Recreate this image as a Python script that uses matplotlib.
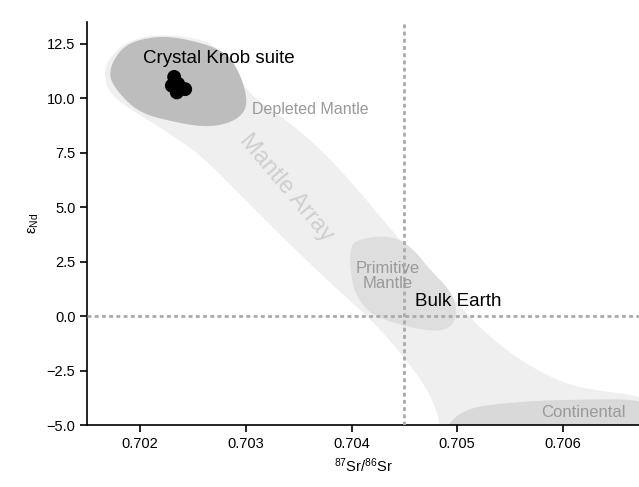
import numpy as np
import matplotlib
matplotlib.use("Agg")
import matplotlib.pyplot as plt
from matplotlib.patches import Polygon

plt.rcParams["font.family"] = ["Liberation Sans", "DejaVu Sans"]
plt.rcParams["mathtext.fontset"] = "custom"
plt.rcParams["mathtext.rm"] = "Liberation Sans"
plt.rcParams["mathtext.it"] = "Liberation Sans:italic"

# Crystal Knob suite samples (87Sr/86Sr, epsilon Nd)
sr_ratio = [0.702322, 0.702426, 0.702347, 0.702300, 0.702360]
eps_nd = [10.97, 10.41, 10.26, 10.57, 10.65]

# Reservoir outlines (87Sr/86Sr, epsilon Nd)
mantle_array_sr = [0.701697, 0.701905, 0.702284, 0.702757, 0.703012, 0.703419,
                   0.703760, 0.704080, 0.704350, 0.704649, 0.704980, 0.705217,
                   0.705529, 0.705850, 0.706163, 0.706900, 0.706900, 0.704838,
                   0.704838, 0.704800, 0.704696, 0.704507, 0.704223, 0.703769,
                   0.703325, 0.702946, 0.702568, 0.702189, 0.701858, 0.701697,
                   0.701659]
mantle_array_eps = [11.80, 12.72, 12.95, 12.49, 10.18, 8.89,
                    7.40, 5.70, 4.10, 2.49, 0.74, -0.55,
                    -1.80, -2.72, -3.32, -3.73, -5.40, -5.40,
                    -5.02, -4.24, -3.18, -1.94, -0.32, 1.66,
                    3.73, 5.58, 7.42, 8.66, 9.63, 10.32,
                    11.11]

depleted_sr = [0.701697, 0.701811, 0.702000, 0.702303, 0.702776, 0.702927,
               0.703012, 0.702993, 0.702851, 0.702615, 0.702284, 0.701981,
               0.701763]
depleted_eps = [11.20, 12.26, 12.72, 12.86, 12.26, 11.34,
                10.09, 9.35, 8.85, 8.66, 8.94, 9.35,
                10.41]

primitive_sr = [0.704034, 0.704337, 0.704554, 0.704744, 0.704933, 0.704999,
                0.704961, 0.704744, 0.704205, 0.704034, 0.703987, 0.703987]
primitive_eps = [3.50, 3.73, 3.27, 2.12, 1.20, 0.41,
                 -0.51, -0.74, -0.05, 0.97, 2.12, 3.04]

continental_sr = [0.704904, 0.704904, 0.705027, 0.705217, 0.705595, 0.705974,
                  0.706900, 0.706900]
continental_eps = [-5.40, -5.00, -4.42, -4.10, -3.92, -3.83,
                   -3.78, -5.40]

bulk_earth_sr = 0.7045
bulk_earth_eps = 0.0


def chaikin(xs, ys, n_iter=4):
    """Smooth a closed outline by corner cutting."""
    pts = np.column_stack([xs, ys]).astype(float)
    for _ in range(n_iter):
        nxt = np.roll(pts, -1, axis=0)
        q = 0.75 * pts + 0.25 * nxt
        r = 0.25 * pts + 0.75 * nxt
        pts = np.empty((2 * len(q), 2))
        pts[0::2] = q
        pts[1::2] = r
    return pts


fig = plt.figure(figsize=(6.39, 4.87), dpi=100)
ax = fig.add_axes([0.1366, 0.1265, 0.8634, 0.8289])

ax.add_patch(Polygon(chaikin(mantle_array_sr, mantle_array_eps), closed=True,
                     facecolor="#efefef", edgecolor="none", zorder=1))
ax.add_patch(Polygon(chaikin(depleted_sr, depleted_eps), closed=True,
                     facecolor="#bdbdbd", edgecolor="none", zorder=2))
ax.add_patch(Polygon(chaikin(primitive_sr, primitive_eps), closed=True,
                     facecolor="#dedede", edgecolor="none", zorder=2))
ax.add_patch(Polygon(chaikin(continental_sr, continental_eps, 3), closed=True,
                     facecolor="#d9d9d9", edgecolor="none", zorder=2))

dotted = dict(color="#aaaaaa", lw=2.0, dashes=(1.4, 1.2), zorder=3)
ax.axvline(bulk_earth_sr, **dotted)
ax.axhline(bulk_earth_eps, **dotted)

ax.scatter(sr_ratio, eps_nd, s=100, color="black", edgecolor="none", zorder=5)

ax.text(0.702026, 11.80, "Crystal Knob suite", fontsize=13.5, color="black",
        ha="left", va="center", zorder=6)
ax.text(0.703060, 9.49, "Depleted Mantle", fontsize=11.5, color="#9a9a9a",
        ha="left", va="center", zorder=6)
ax.text(0.703380, 5.90, "Mantle Array", fontsize=17, color="#cfcfcf",
        ha="center", va="center", rotation=-50, zorder=6)
ax.text(0.704346, 1.84, "Primitive\nMantle", fontsize=12, color="#9a9a9a",
        ha="center", va="center", linespacing=1.0, zorder=6)
ax.text(0.704602, 0.69, "Bulk Earth", fontsize=13.5, color="black",
        ha="left", va="center", zorder=6)
ax.text(0.705791, -4.42, "Continental", fontsize=12, color="#9a9a9a",
        ha="left", va="center", zorder=6)

ax.set_xlim(0.7015, 0.70672)
ax.set_ylim(-5, 13.5)
ax.set_xticks([0.702, 0.703, 0.704, 0.705, 0.706])
ax.set_xticklabels(["0.702", "0.703", "0.704", "0.705", "0.706"])
ax.set_yticks([-5, -2.5, 0, 2.5, 5, 7.5, 10, 12.5])
ax.set_yticklabels(["\u22125.0", "\u22122.5", "0.0", "2.5", "5.0", "7.5", "10.0", "12.5"])
ax.tick_params(labelsize=10.5, length=5, width=1.2)

ax.set_xlabel("$^{87}$Sr/$^{86}$Sr", fontsize=10.5)
ax.set_ylabel("\u03b5$_{\\mathrm{Nd}}$", fontsize=10.5, labelpad=4)

for side in ("top", "right"):
    ax.spines[side].set_visible(False)
for side in ("left", "bottom"):
    ax.spines[side].set_linewidth(1.2)

fig.savefig("out.png", dpi=100)
